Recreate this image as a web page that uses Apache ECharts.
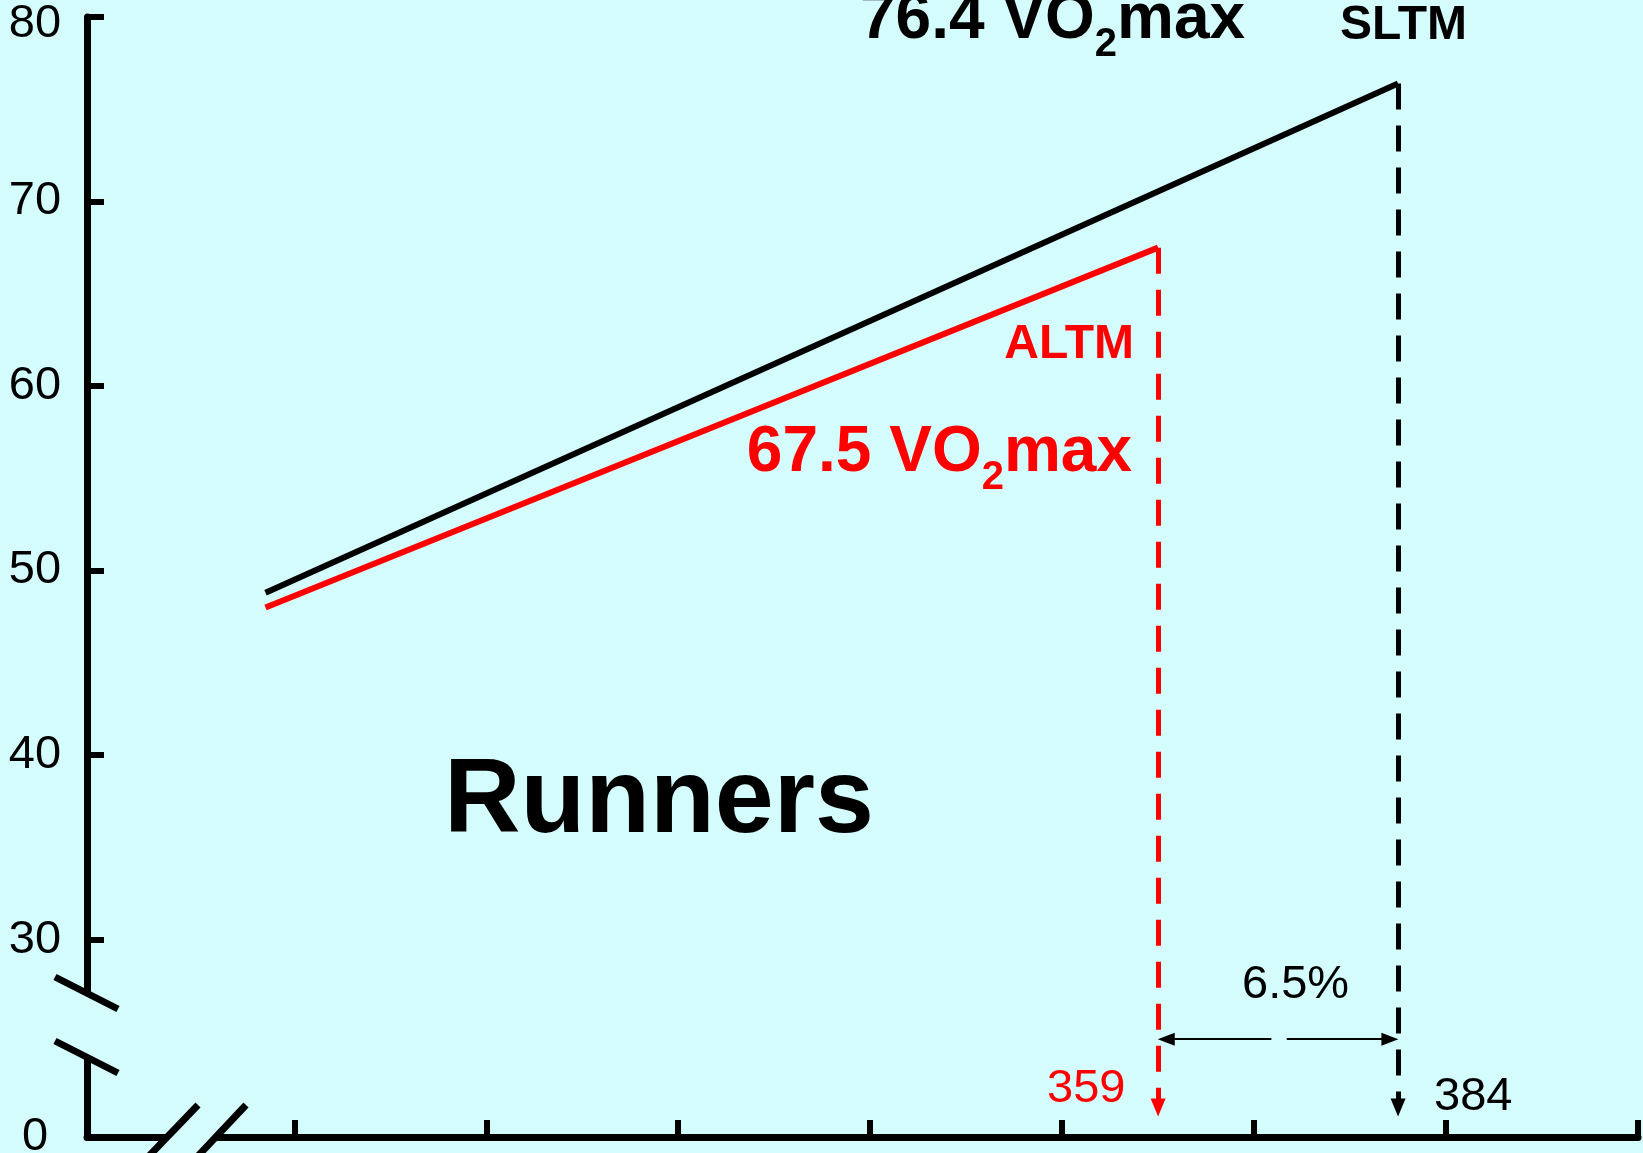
<!DOCTYPE html>
<html><head><meta charset="utf-8">
<script src="https://cdn.jsdelivr.net/npm/echarts@6/dist/echarts.min.js"></script>
<style>html,body{margin:0;padding:0;background:#d5fcfc;overflow:hidden}#c{width:1643px;height:1153px}</style>
</head><body><div id="c"></div>
<script>
// ---- data ----
const xTicks = [269, 289, 309, 329, 349, 369, 389, 409];
const yTicks = [30, 40, 50, 60, 70, 80];
const yZeroLabel = '0';
const sltmLine = [[266, 48.8], [384, 76.4]];   // sea-level (black)
const altmLine = [[266, 48.0], [359, 67.5]];   // altitude (red)
const altmSpeed = 359, sltmSpeed = 384;
const altmVO2 = 67.5, sltmVO2 = 76.4;
const diffLabel = '6.5%';
const groupLabel = 'Runners';

// ---- axis extents ----
const xMin = 247.4, xMax = 409;
const yMin = 19.3, yMax = 80;
const arrowDropY = 20.9;    // bottom of the drop arrows (broken axis region)
const spanArrowY = 24.6;    // horizontal double arrow level
const arrowHalf = 0.85;     // half arrow-head length in x units
const spanGapL = 370.8, spanGapR = 372.4;

const FONT = '"Liberation Sans", Arial, sans-serif';
const BG = '#d5fcfc';

const ctx = document.createElement('canvas').getContext('2d');
function measure(t, size, weight) { ctx.font = weight + ' ' + size + 'px "Liberation Sans"'; return ctx.measureText(t).width; }

function txt(text, x, y, size, weight, color, align) {
  return { type: 'text', x: x, y: y, z: 100, silent: true,
    style: { text: text, fill: color, font: weight + ' ' + size + 'px ' + FONT, align: align || 'left', verticalAlign: 'middle' } };
}
function vo2Label(value, color, x, yMid, anchor) {
  const fs = 64, sfs = 40;
  const main = value + ' VO', sub = '2', tail = 'max';
  const w1 = measure(main, fs, 'bold'), w2 = measure(sub, sfs, 'bold'), w3 = measure(tail, fs, 'bold');
  const x0 = anchor === 'right' ? x - (w1 + w2 + w3) : x;
  return [
    txt(main, x0, yMid, fs, 'bold', color),
    txt(sub, x0 + w1, yMid + 25, sfs, 'bold', color),
    txt(tail, x0 + w1 + w2, yMid, fs, 'bold', color)
  ];
}
function seg(x1, y1, x2, y2) {
  return { type: 'line', z: 100, silent: true, shape: { x1: x1, y1: y1, x2: x2, y2: y2 },
    style: { stroke: '#000', lineWidth: 7 } };
}
function gap(x, y, w, h) {
  return { type: 'rect', z: 99, silent: true, shape: { x: x, y: y, width: w, height: h }, style: { fill: BG } };
}

const chart = echarts.init(document.getElementById('c'));
const graphics = [].concat(
  vo2Label(sltmVO2, '#000', 860, 20, 'left'),
  vo2Label(altmVO2, '#ff0000', 1132, 453, 'right'),
  [
    txt('SLTM', 1340, 26, 48, 'bold', '#000'),
    txt('ALTM', 1134, 345, 48, 'bold', '#ff0000', 'right'),
    txt(groupLabel, 444, 803, 106, 'bold', '#000'),
    txt(diffLabel, 1242, 985, 47, 'normal', '#000'),
    txt(String(altmSpeed), 1047, 1089, 47, 'normal', '#ff0000'),
    txt(String(sltmSpeed), 1434, 1097, 47, 'normal', '#000'),
    // y-axis break
    gap(79, 994, 17, 62),
    seg(55, 977, 118, 1009),
    seg(55, 1041, 118, 1073),
    // x-axis break
    gap(168, 1132, 46, 11),
    seg(148, 1157, 198, 1105),
    seg(197, 1157, 246, 1105)
  ]
);

chart.setOption({
  backgroundColor: BG,
  animation: false,
  grid: { left: 87, right: 5, top: 17, bottom: 16, containLabel: false, outerBoundsMode: 'none' },
  xAxis: {
    type: 'value', min: xMin, max: xMax,
    axisLine: { show: true, lineStyle: { color: '#000', width: 7 } },
    axisTick: { show: true, inside: true, length: 17, customValues: xTicks, lineStyle: { color: '#000', width: 6 } },
    axisLabel: { show: false },
    splitLine: { show: false }
  },
  yAxis: {
    type: 'value', min: yMin, max: yMax,
    axisLine: { show: true, lineStyle: { color: '#000', width: 7 } },
    axisTick: { show: true, inside: true, length: 17, customValues: yTicks, lineStyle: { color: '#000', width: 6 } },
    axisLabel: {
      show: true, customValues: [yMin].concat(yTicks), align: 'center', margin: 52,
      color: '#000', fontSize: 47, fontFamily: FONT,
      formatter: function (v) {
        if (v < yTicks[0] - 1) return yZeroLabel;
        if (v >= yMax) return '{top|' + Math.round(v) + '}';
        return String(Math.round(v));
      },
      rich: { top: { fontSize: 47, fontFamily: FONT, color: '#000', padding: [14, 0, 0, 0] } }
    },
    splitLine: { show: false }
  },
  series: [
    {
      name: 'SLTM', type: 'line', data: sltmLine, symbol: 'none', silent: true, z: 5,
      lineStyle: { color: '#000', width: 6 },
      markLine: {
        silent: true, symbol: ['none', 'triangle'], symbolSize: [15, 18], label: { show: false },
        lineStyle: { color: '#000', width: 5, type: [26, 16] },
        emphasis: { disabled: true },
        data: [[{ coord: [sltmSpeed, sltmVO2] }, { coord: [sltmSpeed, arrowDropY] }]]
      }
    },
    {
      name: 'ALTM', type: 'line', data: altmLine, symbol: 'none', silent: true, z: 5,
      lineStyle: { color: '#ff0000', width: 6 },
      markLine: {
        silent: true, symbol: ['none', 'triangle'], symbolSize: [15, 18], label: { show: false },
        lineStyle: { color: '#ff0000', width: 5, type: [26, 16] },
        emphasis: { disabled: true },
        data: [[{ coord: [altmSpeed, altmVO2] }, { coord: [altmSpeed, arrowDropY] }]]
      }
    },
    {
      name: 'span', type: 'line', data: [], symbol: 'none', silent: true, z: 5,
      markLine: {
        silent: true, symbol: ['triangle', 'none'], symbolSize: [13, 17], label: { show: false },
        lineStyle: { color: '#000', width: 2, type: 'solid' },
        emphasis: { disabled: true },
        data: [
          [{ coord: [altmSpeed + arrowHalf, spanArrowY] }, { coord: [spanGapL, spanArrowY] }],
          [{ coord: [sltmSpeed - arrowHalf, spanArrowY] }, { coord: [spanGapR, spanArrowY] }]
        ]
      }
    }
  ],
  graphic: { elements: graphics }
});
</script>
</body></html>
